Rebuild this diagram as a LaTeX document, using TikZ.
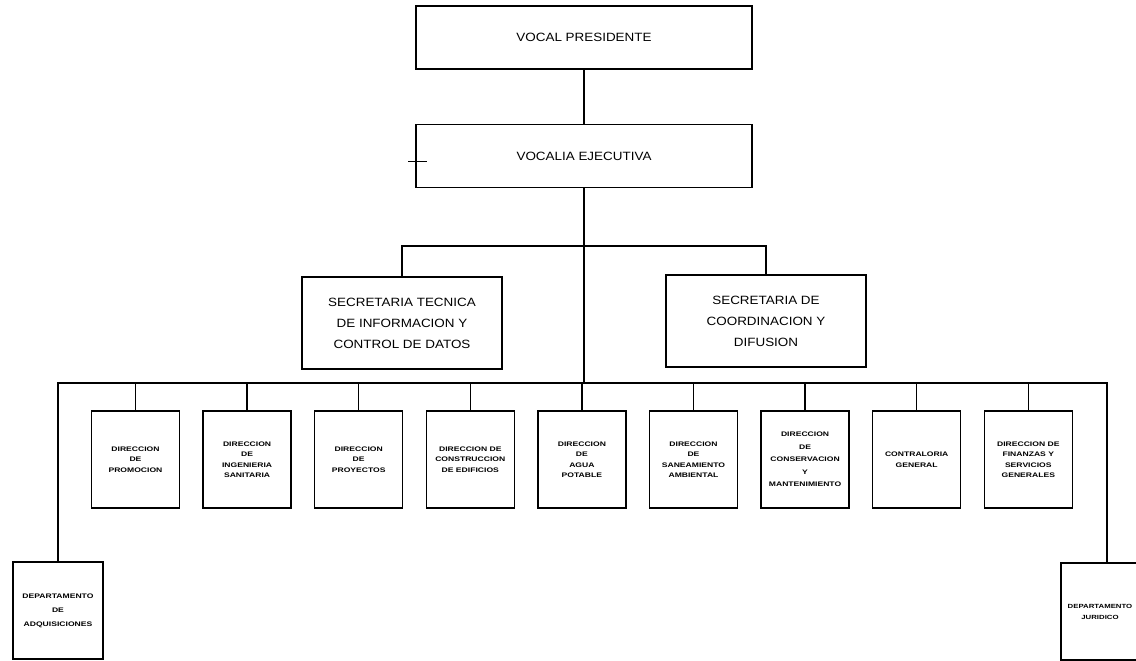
\documentclass[tikz,border=0pt]{standalone}
\usepackage{fontspec}
\newfontfamily\lblfont[FakeStretch=1.12]{Liberation Sans}
\newfontfamily\smfont[FakeStretch=1.3]{Liberation Sans}
\begin{document}
\begin{tikzpicture}[x=1pt,y=-1pt,
  box/.style={draw,line width=1.3pt,rectangle,inner sep=0pt,align=center},
  topbox/.style={box,minimum width=336pt,minimum height=63pt,font=\lblfont\fontsize{12}{21}\selectfont},
  secbox/.style={box,minimum width=200pt,minimum height=92pt,font=\lblfont\fontsize{12}{21}\selectfont},
  dirbox/.style={box,minimum width=88pt,minimum height=97pt,font=\smfont\bfseries\fontsize{6.6}{10.5}\selectfont},
  depbox/.style={box,minimum width=90pt,minimum height=97pt,font=\smfont\bfseries\fontsize{6.6}{14}\selectfont},
  conn/.style={line width=1.3pt}]
\useasboundingbox (0,0) rectangle (1136,661);
\fill[white] (0,0) rectangle (1136,661);
% top
\node[topbox] (vp) at (584,37.5) {VOCAL PRESIDENTE};
\node[topbox] (ve) at (584,156) {VOCALIA EJECUTIVA};
\draw[line width=0.8pt] (408,161) -- (427,161);
% secretarias
\node[secbox] (st) at (402,323) {SECRETARIA TECNICA\\DE INFORMACION Y\\CONTROL DE DATOS};
\node[secbox] (sc) at (766,321) {SECRETARIA DE\\COORDINACION Y\\DIFUSION};
\coordinate (sbus) at (584,246);
\coordinate (bus) at (584,383);
% directions
\node[dirbox] (d1) at (135.5,459.5) {DIRECCION\\DE\\PROMOCION};
\node[dirbox] (d2) at (247.1,459.5) {DIRECCION\\DE\\INGENIERIA\\SANITARIA};
\node[dirbox] (d3) at (358.7,459.5) {DIRECCION\\DE\\PROYECTOS};
\node[dirbox] (d4) at (470.3,459.5) {DIRECCION DE\\CONSTRUCCION\\DE EDIFICIOS};
\node[dirbox] (d5) at (581.9,459.5) {DIRECCION\\DE\\AGUA\\POTABLE};
\node[dirbox] (d6) at (693.5,459.5) {DIRECCION\\DE\\SANEAMIENTO\\AMBIENTAL};
\node[dirbox,font=\smfont\bfseries\fontsize{6.6}{12.5}\selectfont] (d7) at (805.1,459.5) {DIRECCION\\DE\\CONSERVACION\\Y\\MANTENIMIENTO};
\node[dirbox] (d8) at (916.7,459.5) {CONTRALORIA\\GENERAL};
\node[dirbox] (d9) at (1028.3,459.5) {DIRECCION DE\\FINANZAS Y\\SERVICIOS\\GENERALES};
% departments
\node[depbox] (da) at (58,610.5) {DEPARTAMENTO\\DE\\ADQUISICIONES};
\node[depbox,minimum width=78pt,font=\smfont\bfseries\fontsize{6}{11}\selectfont] (dj) at (1100,611.5) {DEPARTAMENTO\\JURIDICO};
% connectors
\draw[conn] (vp) -- (ve);
\draw[conn] (ve.south) -- (bus);
\draw[conn] (st.north) |- (sbus) -| (sc.north);
\draw[conn] (da.north) |- (bus) -| ([xshift=7pt]dj.north);
\foreach \n in {d1,d2,d3,d4,d5,d6,d7,d8,d9}
  \draw[conn] (\n.north) -- (\n.north |- bus);
\end{tikzpicture}
\end{document}
